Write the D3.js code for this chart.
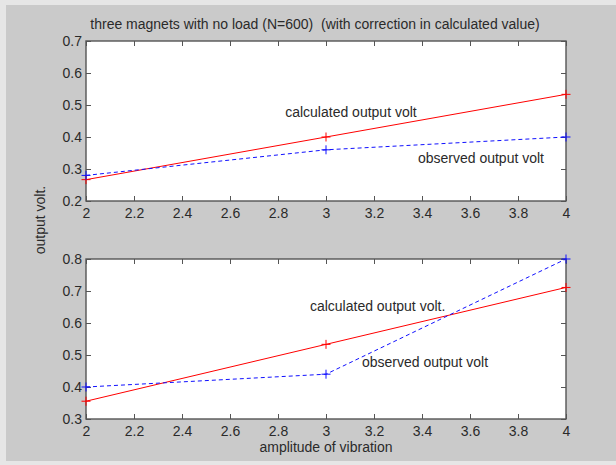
<!DOCTYPE html>
<html>
<head>
<meta charset="utf-8">
<script src="https://cdn.jsdelivr.net/npm/d3@7/dist/d3.min.js"></script>
<style>
  html, body { margin: 0; padding: 0; background: #e6e6e6; }
  svg { display: block; }
  text { font-family: "Liberation Sans", Arial, Helvetica, sans-serif; fill: #2a2a2a; }
</style>
</head>
<body>
<svg id="fig" width="616" height="465"></svg>
<script>
// Amplitude of vibration (x) and output voltages for the two test runs
const amplitude = [2, 3, 4];
const topCalculated = [0.2667, 0.4, 0.5333];
const topObserved = [0.28, 0.36, 0.40];
const bottomCalculated = [0.3556, 0.5333, 0.7111];
const bottomObserved = [0.40, 0.44, 0.80];

const xTicks = [2, 2.2, 2.4, 2.6, 2.8, 3, 3.2, 3.4, 3.6, 3.8, 4];
const topYTicks = [0.2, 0.3, 0.4, 0.5, 0.6, 0.7];
const bottomYTicks = [0.3, 0.4, 0.5, 0.6, 0.7, 0.8];

const titleText = "three magnets with no load (N=600)  (with correction in calculated value)";
const xLabelText = "amplitude of vibration";
const yLabelText = "output volt.";

// Text annotations placed in data coordinates: [x, y, label]
const topNotes = [[2.83, 0.464, "calculated output volt"], [3.383, 0.32, "observed output volt"]];
const bottomNotes = [[2.933, 0.638, "calculated output volt."], [3.15, 0.4625, "observed output volt"]];

const svg = d3.select("#fig");
const W = 616, H = 465;

// figure background
svg.append("rect").attr("x", 6).attr("y", 5).attr("width", W - 6).attr("height", 456)
  .attr("fill", "#cacaca");

const axLeft = 86, axRight = 566, axH = 160;
const panels = [
  { top: 41, yDomain: [0.2, 0.7], yTicks: topYTicks, calc: topCalculated, obs: topObserved, notes: topNotes },
  { top: 259, yDomain: [0.3, 0.8], yTicks: bottomYTicks, calc: bottomCalculated, obs: bottomObserved, notes: bottomNotes }
];

const x = d3.scaleLinear().domain([2, 4]).range([axLeft, axRight]);
const fmt = d => d3.format("")(+d.toFixed(1));
const axisColor = "#555";

panels.forEach((p, i) => {
  const y = d3.scaleLinear().domain(p.yDomain).range([p.top + axH, p.top]);
  const g = svg.append("g");

  g.append("rect").attr("x", axLeft).attr("y", p.top)
    .attr("width", axRight - axLeft).attr("height", axH).attr("fill", "#fff");

  const styleAxis = sel => {
    sel.select(".domain").remove();
    sel.selectAll(".tick line").attr("stroke", axisColor).attr("stroke-width", 1);
    sel.selectAll(".tick text").style("font-size", "14px").attr("fill", "#2a2a2a");
  };

  g.append("g").attr("transform", `translate(0,${p.top + axH})`)
    .call(d3.axisBottom(x).tickValues(xTicks).tickFormat(fmt).tickSizeInner(-5).tickSizeOuter(0).tickPadding(7.5))
    .call(styleAxis);
  g.append("g").attr("transform", `translate(0,${p.top})`)
    .call(d3.axisTop(x).tickValues(xTicks).tickFormat("").tickSizeInner(-5).tickSizeOuter(0))
    .call(styleAxis);
  g.append("g").attr("transform", `translate(${axLeft},0)`)
    .call(d3.axisLeft(y).tickValues(p.yTicks).tickFormat(fmt).tickSizeInner(-5).tickSizeOuter(0).tickPadding(4))
    .call(styleAxis);
  g.append("g").attr("transform", `translate(${axRight},0)`)
    .call(d3.axisRight(y).tickValues(p.yTicks).tickFormat("").tickSizeInner(-5).tickSizeOuter(0))
    .call(styleAxis);

  g.selectAll("g.tick text").attr("font-family", null);

  // axes box
  g.append("rect").attr("x", axLeft).attr("y", p.top)
    .attr("width", axRight - axLeft).attr("height", axH)
    .attr("fill", "none").attr("stroke", axisColor).attr("stroke-width", 1.4);

  const line = d3.line().x((d, j) => x(amplitude[j])).y(d => y(d));

  const series = [
    { values: p.calc, color: "#ff0000", dash: null },
    { values: p.obs, color: "#1010ff", dash: "4,3" }
  ];
  series.forEach(s => {
    g.append("path").datum(s.values).attr("d", line)
      .attr("fill", "none").attr("stroke", s.color).attr("stroke-width", 1)
      .attr("stroke-dasharray", s.dash);
    g.selectAll(null).data(s.values).enter().append("path")
      .attr("d", (d, j) => {
        const cx = x(amplitude[j]), cy = y(d), r = 4.5;
        return `M${cx - r},${cy}H${cx + r}M${cx},${cy - r}V${cy + r}`;
      })
      .attr("stroke", s.color).attr("stroke-width", 1).attr("fill", "none");
  });

  p.notes.forEach(n => {
    g.append("text").attr("x", x(n[0])).attr("y", y(n[1]))
      .style("font-size", "14px").text(n[2]);
  });
});

// title and axis labels
svg.append("text").attr("x", (axLeft + axRight) / 2 - 11).attr("y", 29)
  .attr("text-anchor", "middle").style("font-size", "14px").style("white-space", "pre")
  .text(titleText);
svg.append("text").attr("x", 326).attr("y", 452)
  .attr("text-anchor", "middle").style("font-size", "14px").text(xLabelText);
svg.append("text").attr("transform", "translate(45,220) rotate(-90)")
  .attr("text-anchor", "middle").style("font-size", "14px").text(yLabelText);
</script>
</body>
</html>
